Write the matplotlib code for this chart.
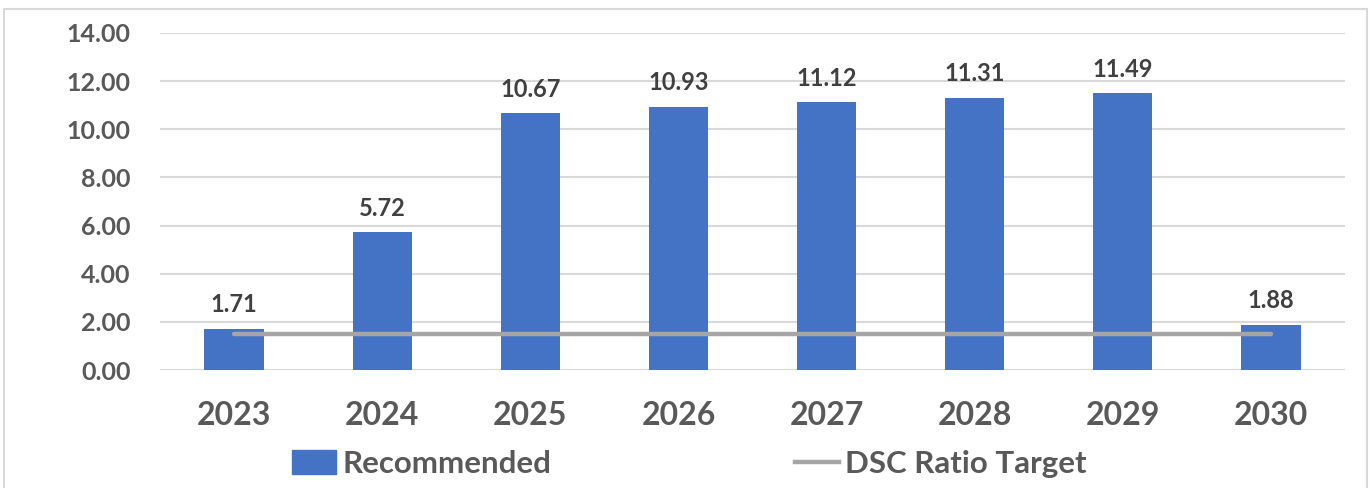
import matplotlib
matplotlib.use("Agg")
import matplotlib.pyplot as plt
from matplotlib.patches import Rectangle
from matplotlib.lines import Line2D
from matplotlib.patches import Patch

plt.rcParams['font.family'] = ['Lato', 'DejaVu Sans']
plt.rcParams['font.weight'] = 'bold'

# data
years = ['2023', '2024', '2025', '2026', '2027', '2028', '2029', '2030']
recommended = [1.71, 5.72, 10.67, 10.93, 11.12, 11.31, 11.49, 1.88]
dsc_target = [1.5, 1.5, 1.5, 1.5, 1.5, 1.5, 1.5, 1.5]
yticks = [0, 2, 4, 6, 8, 10, 12, 14]

txt = '#595959'
blue = '#4472C4'
gray = '#A5A5A5'

fig = plt.figure(figsize=(13.71, 4.88), dpi=100)
ax = fig.add_axes([0.1167, 0.2418, 0.8643, 0.6906])

x = list(range(len(years)))
ax.bar(x, recommended, width=0.4, color=blue, zorder=2)
ax.plot(x, dsc_target, color=gray, lw=3.2, solid_capstyle='round', zorder=3)

# value labels
for xi, v in zip(x, recommended):
    ax.annotate(f'{v:.2f}', (xi, v), xytext=(0, 9), textcoords='offset points',
                ha='center', va='bottom', fontsize=17, color='#404040', fontweight='bold')

ax.set_xlim(-0.5, len(years) - 0.5)
ax.set_ylim(0, 14)
ax.set_yticks(yticks)
ax.set_yticklabels([f'{t:.2f}' for t in yticks])
ax.set_xticks(x)
ax.set_xticklabels(years)
ax.tick_params(axis='y', length=0, pad=21, labelsize=18, labelcolor=txt)
ax.tick_params(axis='x', length=0, pad=22, labelsize=23, labelcolor=txt)
ax.grid(axis='y', color='#D9D9D9', lw=1.5, zorder=0)
ax.set_axisbelow(True)
for s in ax.spines.values():
    s.set_visible(False)

handles = [Patch(color=blue), Line2D([0], [0], color=gray, lw=3.2)]
fig.legend(handles, ['Recommended', 'DSC Ratio Target'], loc='center',
           bbox_to_anchor=(0.503, 0.049), ncol=2, frameon=False, fontsize=22.5,
           labelcolor=txt, columnspacing=7.8, handlelength=1.4, handleheight=0.8,
           handletextpad=0.2)

# outer border
fig.patches.append(Rectangle((4 / 1371, -0.01), 1363 / 1371, 0.9918, transform=fig.transFigure,
                             fill=False, ec='#D9D9D9', lw=1.5))

fig.savefig('out.png', dpi=100)
